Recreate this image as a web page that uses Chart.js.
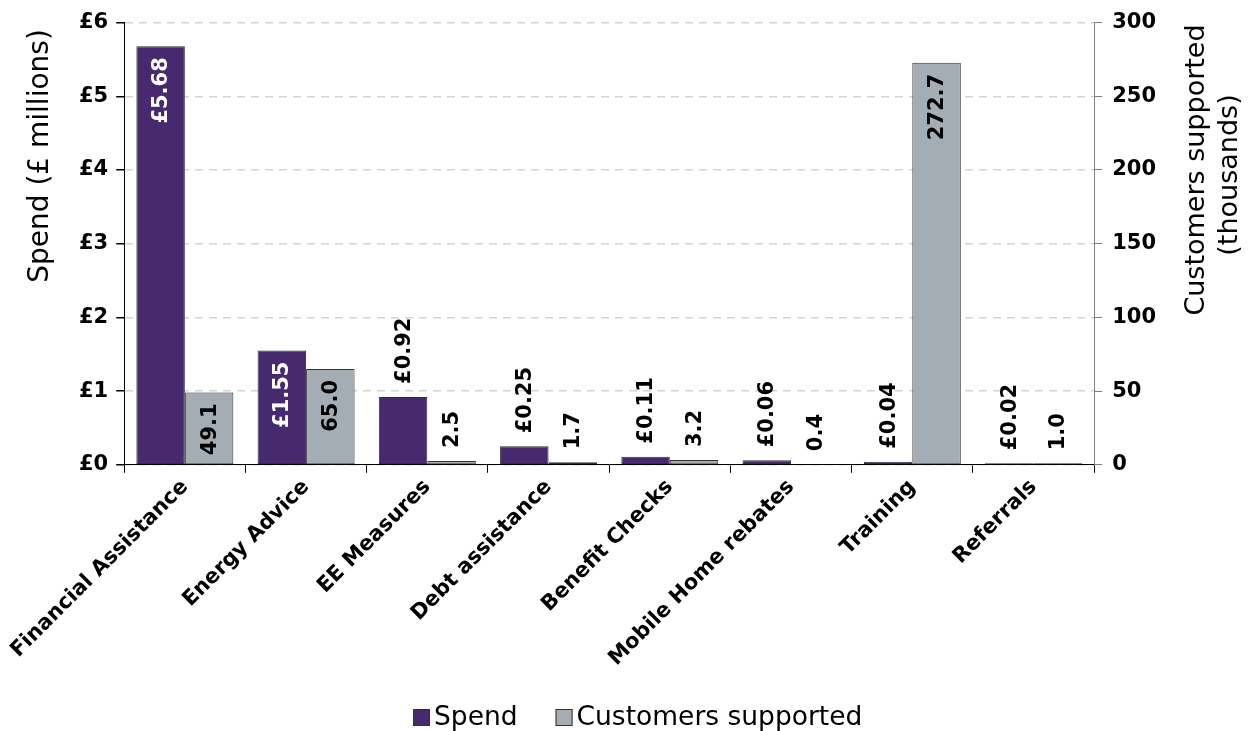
<!DOCTYPE html>
<html>
<head>
<meta charset="utf-8">
<script src="https://cdn.jsdelivr.net/npm/chart.js@4"></script>
<style>
  html, body { margin: 0; padding: 0; background: #fff; }
  #wrap { width: 1250px; height: 731px; }
</style>
</head>
<body>
<div id="wrap"><canvas id="chart" width="1250" height="731"></canvas></div>
<script>
const categories = ['Financial Assistance', 'Energy Advice', 'EE Measures', 'Debt assistance',
  'Benefit Checks', 'Mobile Home rebates', 'Training', 'Referrals'];
const spend = [5.68, 1.55, 0.92, 0.25, 0.11, 0.06, 0.04, 0.02];
const customers = [49.1, 65.0, 2.5, 1.7, 3.2, 0.4, 272.7, 1.0];
const spendLabels = ['£5.68', '£1.55', '£0.92', '£0.25', '£0.11', '£0.06', '£0.04', '£0.02'];
const customerLabels = ['49.1', '65.0', '2.5', '1.7', '3.2', '0.4', '272.7', '1.0'];

const FONT = '"DejaVu Sans", Verdana, sans-serif';
const purple = '#46296e';
const grey = '#a3adb3';

// rotated value labels, inside the bar top if it fits, otherwise above it
const barLabels = {
  id: 'barLabels',
  afterDatasetsDraw(chart) {
    const ctx = chart.ctx;
    const sets = [
      { labels: spendLabels, inside: '#ffffff' },
      { labels: customerLabels, inside: '#000000' }
    ];
    ctx.save();
    ctx.font = 'bold 21px ' + FONT;
    ctx.textBaseline = 'middle';
    sets.forEach((s, di) => {
      chart.getDatasetMeta(di).data.forEach((bar, i) => {
        const txt = s.labels[i];
        const w = ctx.measureText(txt).width;
        const h = bar.base - bar.y;
        ctx.save();
        ctx.translate(bar.x, bar.y);
        ctx.rotate(-Math.PI / 2);
        if (h >= w + 14) {
          ctx.fillStyle = s.inside;
          ctx.textAlign = 'right';
          ctx.fillText(txt, -11, 1);
        } else {
          ctx.fillStyle = '#000';
          ctx.textAlign = 'left';
          ctx.fillText(txt, 13, 1);
        }
        ctx.restore();
      });
    });
    ctx.restore();
  }
};

// axis titles (both reading bottom to top) and the legend
const extras = {
  id: 'extras',
  afterDraw(chart) {
    const ctx = chart.ctx;
    ctx.save();
    ctx.fillStyle = '#000';
    ctx.textAlign = 'center';
    ctx.textBaseline = 'middle';
    const draw = (txt, x, y) => {
      ctx.save();
      ctx.translate(x, y);
      ctx.rotate(-Math.PI / 2);
      ctx.fillText(txt, 0, 0);
      ctx.restore();
    };
    ctx.font = '28px ' + FONT;
    draw('Spend (£ millions)', 41, 156);
    ctx.font = '27px ' + FONT;
    draw('Customers supported', 1197, 170);
    draw('(thousands)', 1230, 175);

    // legend
    ctx.font = '26.5px ' + FONT;
    ctx.textAlign = 'left';
    let x = 413;
    const y = 717;
    chart.data.datasets.forEach(ds => {
      ctx.fillStyle = ds.backgroundColor;
      ctx.fillRect(x, y - 8, 17, 17);
      ctx.strokeStyle = '#333';
      ctx.lineWidth = 1;
      ctx.strokeRect(x + 0.5, y - 7.5, 16, 16);
      ctx.fillStyle = '#000';
      ctx.fillText(ds.label, x + 21, y + 1);
      x += 21 + ctx.measureText(ds.label).width + 38;
    });
    ctx.restore();
  }
};

new Chart(document.getElementById('chart'), {
  type: 'bar',
  data: {
    labels: categories,
    datasets: [{
      label: 'Spend',
      data: spend,
      yAxisID: 'y',
      backgroundColor: purple,
      borderColor: '#333333',
      borderWidth: 1,
      borderSkipped: false,
      categoryPercentage: 0.8,
      barPercentage: 1.0
    }, {
      label: 'Customers supported',
      data: customers,
      yAxisID: 'y1',
      backgroundColor: grey,
      borderColor: '#333333',
      borderWidth: 1,
      borderSkipped: false,
      categoryPercentage: 0.8,
      barPercentage: 1.0
    }]
  },
  options: {
    responsive: false,
    animation: false,
    layout: { padding: { left: 71, right: 84, top: 12, bottom: 38 } },
    plugins: {
      tooltip: { enabled: false },
      legend: { display: false }
    },
    scales: {
      x: {
        grid: { drawOnChartArea: false, tickLength: 8, tickColor: '#000' },
        border: { color: '#000' },
        ticks: {
          color: '#000',
          font: { family: FONT, size: 21, weight: 'bold' },
          minRotation: 45,
          maxRotation: 45,
          padding: 2
        },
        afterFit(scale) { scale.height += 20; }
      },
      y: {
        position: 'left',
        min: 0,
        max: 6,
        grid: { color: '#d4d4d4', lineWidth: 1.5, tickLength: 8, tickColor: '#000' },
        border: { color: '#000', dash: [8, 6] },
        ticks: {
          stepSize: 1,
          color: '#000',
          padding: 8,
          font: { family: FONT, size: 21, weight: 'bold' },
          callback: v => '£' + v
        }
      },
      y1: {
        position: 'right',
        min: 0,
        max: 300,
        grid: { drawOnChartArea: false, tickLength: 8, tickColor: '#808080' },
        border: { color: '#808080' },
        ticks: {
          stepSize: 50,
          color: '#000',
          padding: 10,
          font: { family: FONT, size: 21, weight: 'bold' }
        }
      }
    }
  },
  plugins: [barLabels, extras]
});
</script>
</body>
</html>
